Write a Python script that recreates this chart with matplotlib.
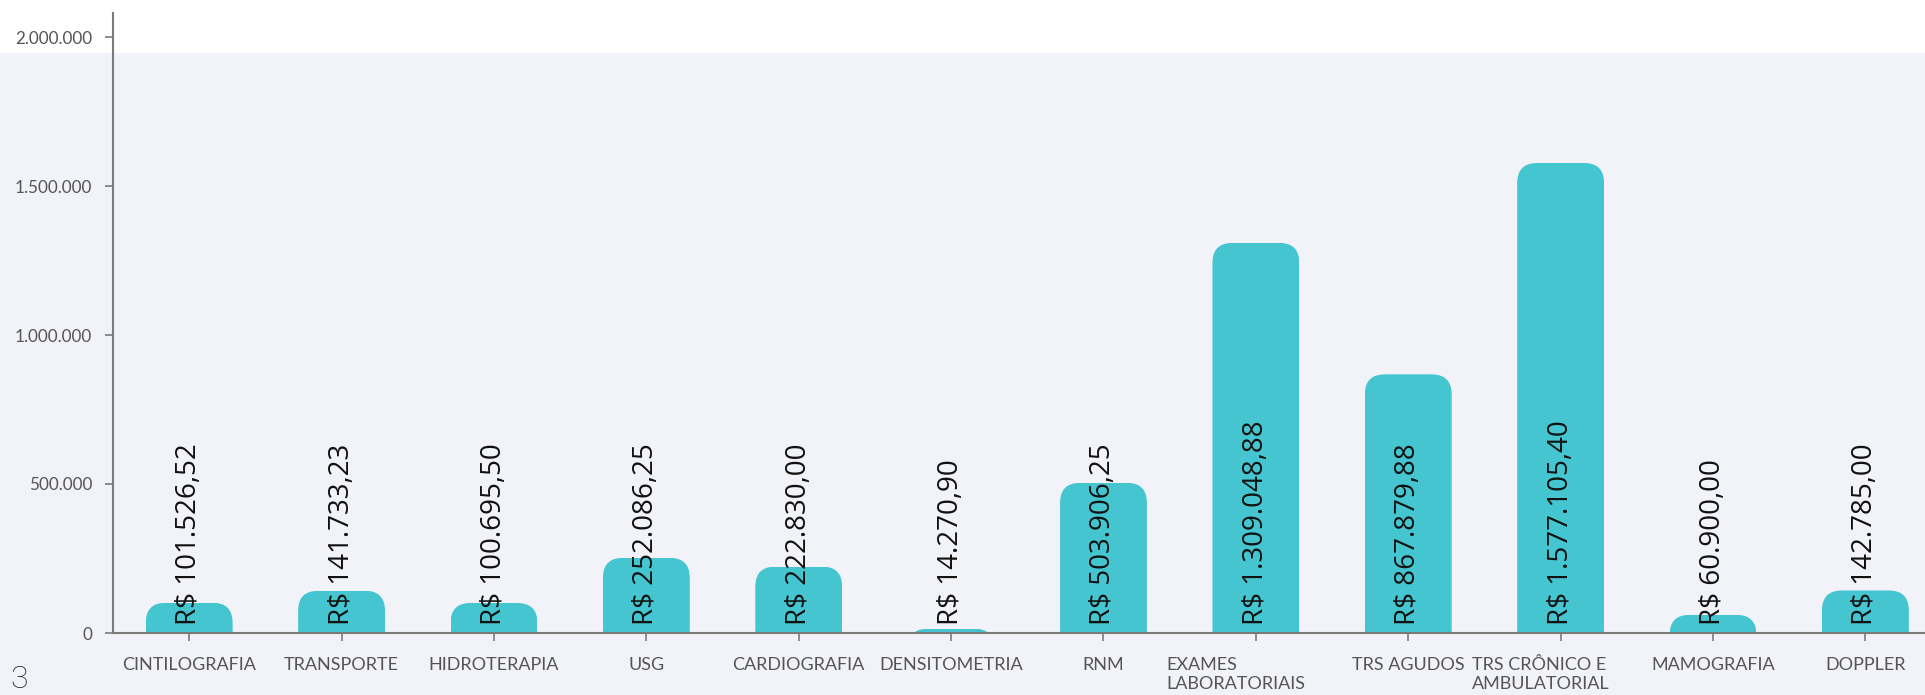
import matplotlib
matplotlib.use("Agg")
import matplotlib.pyplot as plt
from matplotlib.patches import FancyBboxPatch, Rectangle
from matplotlib.ticker import FuncFormatter
import matplotlib.transforms as mtransforms

categories = ["CINTILOGRAFIA", "TRANSPORTE", "HIDROTERAPIA", "USG", "CARDIOGRAFIA",
              "DENSITOMETRIA", "RNM", "EXAMES\nLABORATORIAIS", "TRS AGUDOS",
              "TRS CRÔNICO E\nAMBULATORIAL", "MAMOGRAFIA", "DOPPLER"]
values = [101526.52, 141733.23, 100695.50, 252086.25, 222830.00, 14270.90,
          503906.25, 1309048.88, 867879.88, 1577105.40, 60900.00, 142785.00]
value_labels = ["R$ 101.526,52", "R$ 141.733,23", "R$ 100.695,50", "R$ 252.086,25",
                "R$ 222.830,00", "R$ 14.270,90", "R$ 503.906,25", "R$ 1.309.048,88",
                "R$ 867.879,88", "R$ 1.577.105,40", "R$ 60.900,00", "R$ 142.785,00"]
yticks = [0, 500000, 1000000, 1500000, 2000000]

W, H, DPI = 1925, 695, 100
BG = "#f2f3f8"
BAR = "#44c5d0"
AX = "#7a7a7a"
TXT = "#555555"

fig = plt.figure(figsize=(W / DPI, H / DPI), dpi=DPI, facecolor=BG)
# white band at top
fig.patches.append(Rectangle((0, 1 - 53 / H), 1, 53 / H, transform=fig.transFigure,
                             facecolor="white", edgecolor="none", zorder=-5))

ax = fig.add_axes([113 / W, (H - 633) / H, 1 - 113 / W, (633 - 13) / H])
ax.set_zorder(2)
ax.set_facecolor("none")

x = list(range(len(categories)))
bw = 0.57
bars = ax.bar(x, values, width=bw, color=BAR, zorder=2)

ax.set_xlim(-0.5, (W - 189) / 152.4)
ytop = 2000000 * (633 - 13) / (633 - 37)
ax.set_ylim(0, ytop)

# rounded top corners via clip paths
p0 = ax.transData.transform((0, 0))
p1 = ax.transData.transform((1, 1e6))
xpx = p1[0] - p0[0]
ypx = (p1[1] - p0[1]) / 1e6
aspect = (1 / ypx) / (1 / xpx)
r = 20 / xpx
for b in bars:
    bx = b.get_x()
    bh = b.get_height()
    clip = FancyBboxPatch((bx, -ytop), b.get_width(), bh + ytop,
                          boxstyle=f"round,pad=0,rounding_size={r}",
                          mutation_aspect=aspect, transform=ax.transData)
    b.set_clip_path(clip)

for xi, lab in zip(x, value_labels):
    ax.annotate(lab, (xi, 0), xytext=(0, 8), textcoords="offset pixels",
                rotation=90, ha="center", va="bottom", fontsize=20,
                family=["Open Sans", "DejaVu Sans"], color="#111111", zorder=3)

for s in ["top", "right"]:
    ax.spines[s].set_visible(False)
for s in ["left", "bottom"]:
    ax.spines[s].set_color(AX)
    ax.spines[s].set_linewidth(1.5)

ax.set_yticks(yticks)
ax.yaxis.set_major_formatter(FuncFormatter(lambda v, p: f"{int(v):,}".replace(",", ".")))
ax.set_xticks(x)
ax.set_xticklabels(categories, linespacing=1.25, multialignment="left")
ax.tick_params(axis="y", length=6, width=1.2, color=AX, pad=9, labelsize=12.3, labelcolor=TXT)
ax.tick_params(axis="x", length=6, width=1.2, color=AX, pad=11, labelsize=13, labelcolor=TXT)
for lab in ax.get_yticklabels() + ax.get_xticklabels():
    lab.set_family(["Lato", "DejaVu Sans"])
for lab in ax.get_xticklabels():
    if "\n" in lab.get_text():
        lab.set_transform(lab.get_transform() +
                          mtransforms.ScaledTranslation(-20 / DPI, 0, fig.dpi_scale_trans))

fig.text(19 / W, (H - 688) / H, "3", fontsize=23, family=["Roboto", "DejaVu Sans"],
         fontweight="light", color="#222222", ha="center", va="baseline")

fig.savefig("out.png", dpi=DPI, facecolor=BG)
